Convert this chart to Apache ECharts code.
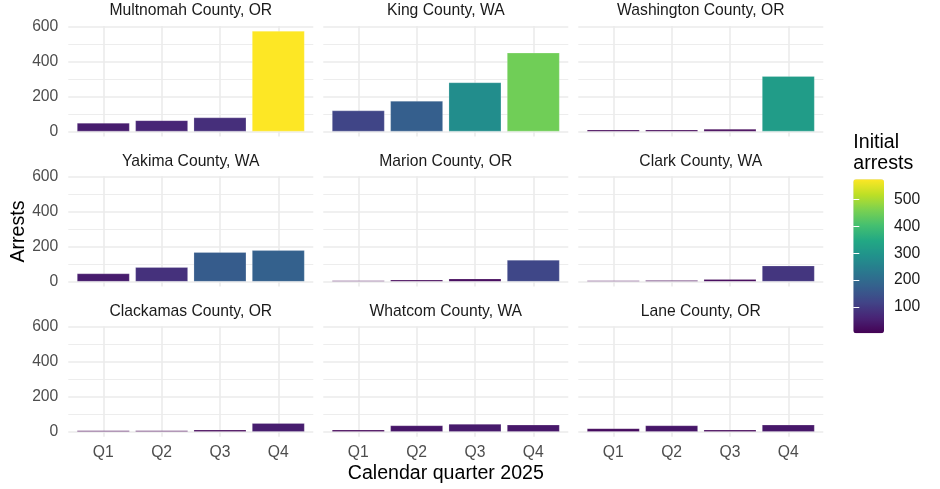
<!DOCTYPE html>
<html>
<head>
<meta charset="utf-8">
<script src="https://cdn.jsdelivr.net/npm/echarts@6/dist/echarts.min.js"></script>
<style>
html,body{margin:0;padding:0;background:#fff;}
#chartmain{width:940px;height:489px;}
</style>
</head>
<body>
<div id="chartmain"></div>
<script>
// data
var counties = ['Multnomah County, OR', 'King County, WA', 'Washington County, OR',
                'Yakima County, WA', 'Marion County, OR', 'Clark County, WA',
                'Clackamas County, OR', 'Whatcom County, WA', 'Lane County, OR'];
var quarters = ['Q1', 'Q2', 'Q3', 'Q4'];
var multnomah = [48, 63, 79, 575];
var king = [119, 174, 280, 450];
var washington = [10, 10, 13, 316];
var yakima = [46, 82, 168, 179];
var marion = [5, 10, 16, 124];
var clark = [3, 7, 14, 91];
var clackamas = [2, 4, 11, 49];
var whatcom = [11, 36, 44, 40];
var lane = [19, 36, 11, 40];
var yTicks = [0, 200, 400, 600];
var yMinorTicks = [100, 300, 500];
var legendTicks = [100, 200, 300, 400, 500];

var arrests = [multnomah, king, washington, yakima, marion, clark, clackamas, whatcom, lane];
var viridis = ['#440154', '#482475', '#414487', '#355F8D', '#2A788E', '#21918C',
               '#22A884', '#44BF70', '#7AD151', '#BDDF26', '#FDE725'];

var font = 'Liberation Sans, Arial, Helvetica, sans-serif';
var gridCol = '#EBEBEB';

// facet layout
var colLeft = [68.3, 323.3, 578.3];
var rowTop = [26, 176.2, 326.4];
var panelW = 245, panelH = 110.4;

var allVals = [].concat.apply([], arrests);
var vMax = Math.max.apply(null, allVals);
var vMin = Math.min.apply(null, allVals);
// ggplot style 5% expansion
var yLo = -0.05 * vMax, yHi = vMax * 1.05;

var grids = [], xAxes = [], yAxes = [], minorY = [], series = [], texts = [];

for (var i = 0; i < 9; i++) {
    var r = Math.floor(i / 3), c = i % 3;
    grids.push({left: colLeft[c], top: rowTop[r], width: panelW, height: panelH, containLabel: false});
    xAxes.push({
        type: 'value', gridIndex: i, min: 0.4, max: 4.6,
        axisLine: {show: false},
        axisTick: {show: false, customValues: [1, 2, 3, 4]},
        axisLabel: {
            show: r === 2, customValues: [1, 2, 3, 4], margin: 8,
            color: '#4D4D4D', fontSize: 15.7, fontFamily: font,
            formatter: function (v) { return quarters[Math.round(v) - 1]; }
        },
        splitLine: {show: true, lineStyle: {color: gridCol, width: 1.6}}
    });
    yAxes.push({
        type: 'value', gridIndex: i, min: yLo, max: yHi,
        axisLine: {show: false},
        axisTick: {show: false, customValues: yTicks},
        axisLabel: {
            show: c === 0, customValues: yTicks, margin: 10,
            color: '#4D4D4D', fontSize: 15.7, fontFamily: font
        },
        splitLine: {show: true, lineStyle: {color: gridCol, width: 1.6}}
    });
    minorY.push({
        type: 'value', gridIndex: i, min: yLo, max: yHi,
        axisLine: {show: false},
        axisTick: {show: false, customValues: yMinorTicks},
        axisLabel: {show: false},
        splitLine: {show: true, lineStyle: {color: gridCol, width: 0.9}}
    });
    series.push({
        type: 'bar', name: counties[i], xAxisIndex: i, yAxisIndex: i,
        barWidth: 52.5, barMinHeight: 1.2, silent: true,
        itemStyle: {borderColor: 'rgba(255,255,255,0.4)', borderWidth: 0.5},
        data: arrests[i].map(function (v, j) { return [j + 1, v]; })
    });
    texts.push({
        type: 'text', x: colLeft[c] + panelW / 2, y: rowTop[r] - 15,
        style: {text: counties[i], fill: '#1A1A1A', font: '15.7px ' + font,
                align: 'center', verticalAlign: 'middle'}
    });
}

// colourbar axis (grid 9)
var barLeft = 853.3, barTop = 179.3, barW = 30.7, barH = 154;
grids.push({left: barLeft, top: barTop, width: barW, height: barH});
xAxes.push({type: 'value', gridIndex: 9, show: false, min: 0, max: 1});
var legendY = {
    type: 'value', gridIndex: 9, min: vMin, max: vMax, position: 'right', z: 10,
    axisLine: {show: false},
    axisTick: {show: true, inside: true, length: 6, customValues: legendTicks,
               lineStyle: {color: '#fff', width: 1}},
    axisLabel: {customValues: legendTicks, margin: 10, color: '#1A1A1A',
                fontSize: 15.7, fontFamily: font},
    splitLine: {show: false}
};
var legendY2 = {
    type: 'value', gridIndex: 9, min: vMin, max: vMax, position: 'left', z: 10,
    axisLine: {show: false},
    axisTick: {show: true, inside: true, length: 6, customValues: legendTicks,
               lineStyle: {color: '#fff', width: 1}},
    axisLabel: {show: false},
    splitLine: {show: false}
};

texts.push({
    type: 'text', x: 445.8, y: 474,
    style: {text: 'Calendar quarter 2025', fill: '#000', font: '19.6px ' + font,
            align: 'center', verticalAlign: 'middle'}
});
texts.push({
    type: 'text', x: 18.5, y: 231.5, rotation: Math.PI / 2,
    style: {text: 'Arrests', fill: '#000', font: '19.6px ' + font,
            align: 'center', verticalAlign: 'middle'}
});
texts.push({
    type: 'text', x: barLeft, y: 131.5,
    style: {text: 'Initial\narrests', fill: '#000', font: '19.6px ' + font,
            lineHeight: 21.5, align: 'left', verticalAlign: 'top'}
});

var option = {
    backgroundColor: '#fff',
    animation: false,
    grid: grids,
    xAxis: xAxes,
    yAxis: yAxes.concat(minorY, [legendY, legendY2]),
    visualMap: {
        type: 'continuous', min: vMin, max: vMax, dimension: 1,
        seriesIndex: series.map(function (s, k) { return k; }),
        calculable: false, realtime: false,
        left: barLeft, top: barTop, itemWidth: barW, itemHeight: barH,
        padding: 0, text: null, showLabel: false,
        inRange: {color: viridis}
    },
    series: series,
    graphic: texts
};

var myChart = echarts.init(document.getElementById('chartmain'));
myChart.setOption(option);
</script>
</body>
</html>
